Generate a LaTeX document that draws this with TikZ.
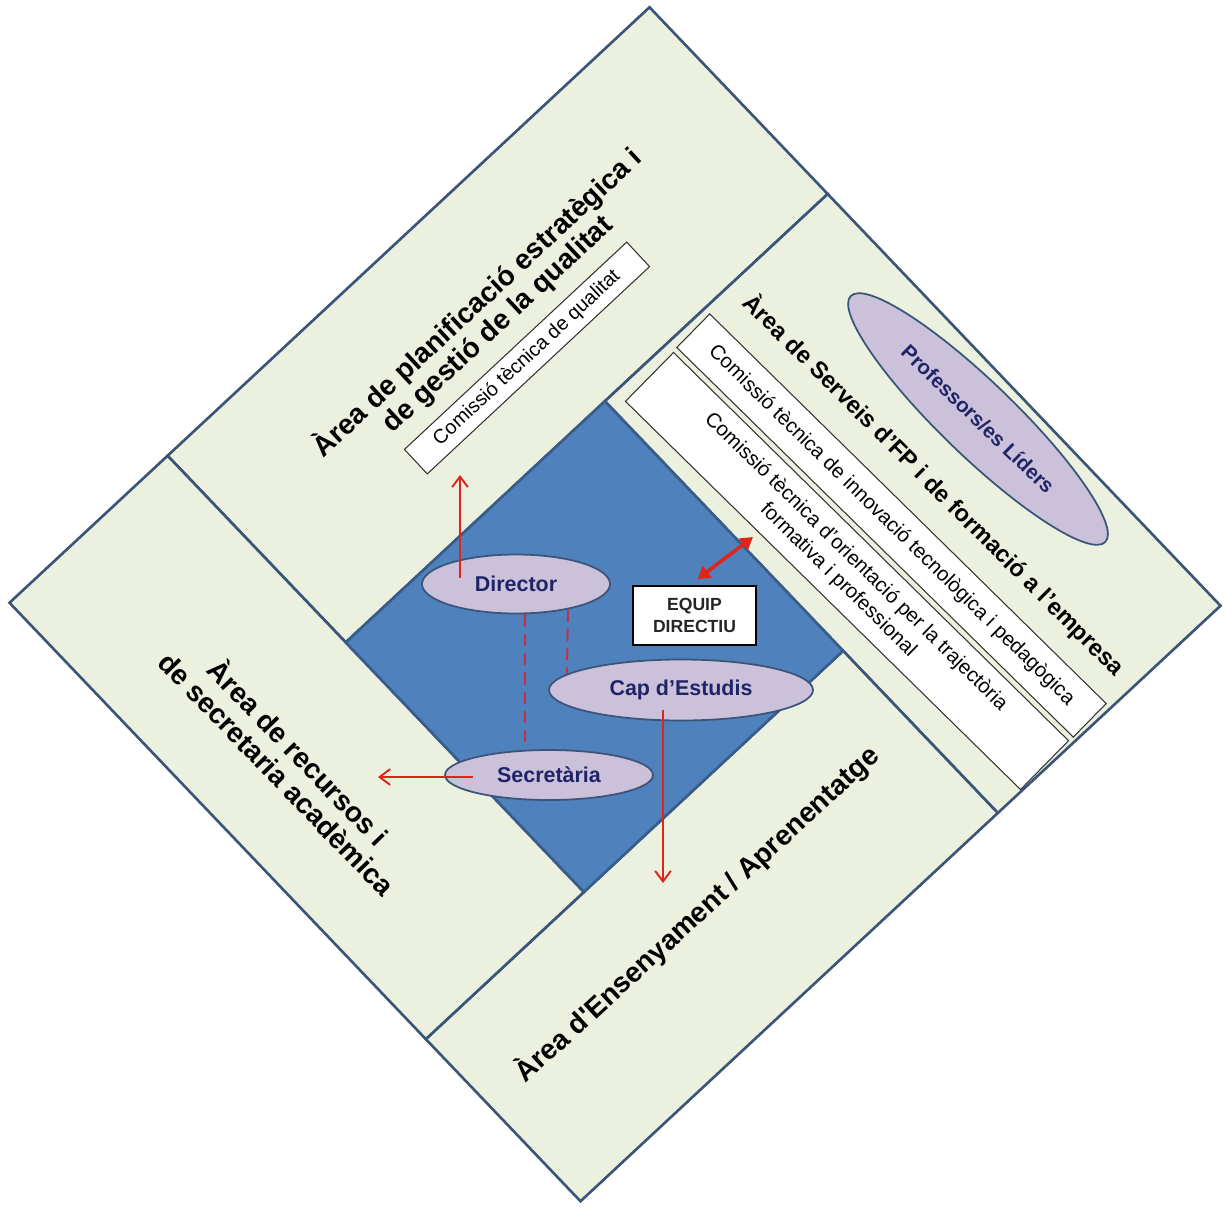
\documentclass[tikz,border=0pt]{standalone}
\usepackage{fontspec}
\setmainfont{Liberation Sans}
\usetikzlibrary{shapes.geometric,arrows.meta,calc}
\definecolor{areafill}{HTML}{EBF1DE}
\definecolor{arealine}{HTML}{3B5578}
\definecolor{equipblue}{HTML}{4F81BD}
\definecolor{equipline}{HTML}{385D8A}
\definecolor{rolefill}{HTML}{CCC1DA}
\definecolor{roletext}{HTML}{1F2466}
\definecolor{linkred}{HTML}{E2231A}
\definecolor{dashred}{HTML}{C0304A}
\begin{document}
\begin{tikzpicture}[x=0.02cm, y=-0.02cm,
  area/.style={fill=areafill, draw=arealine, line width=1.5pt},
  areatitle/.style={inner sep=0pt, align=center, font=\bfseries\fontsize{16}{16.5}\selectfont},
  comissio/.style={draw=black!80, fill=white, line width=0.6pt, inner sep=0pt, align=center, font=\fontsize{11.6}{14.4}\selectfont},
  role/.style={ellipse, draw=arealine, fill=rolefill, line width=1pt, inner sep=0pt, text=roletext, font=\bfseries\fontsize{12.2}{14}\selectfont},
  link/.style={draw=linkred, line width=1.1pt, -{Straight Barb[length=6pt,width=9pt]}},
  tie/.style={draw=dashred, line width=1.1pt, dash pattern=on 7pt off 4pt}]
\useasboundingbox (0,0) rectangle (1226,1207);
\draw[area] (167.6,455.7) -- (649.5,7.25) -- (827.7,194.0) -- (345.7,642.4) -- cycle;
\draw[area] (827.7,194.0) -- (1220.5,605.75) -- (997.8,813.0) -- (604.9,401.2) -- cycle;
\draw[area] (997.8,813.0) -- (580.5,1201.25) -- (425.8,1039.1) -- (843.1,650.8) -- cycle;
\draw[area] (425.8,1039.1) -- (9.5,602.75) -- (167.6,455.7) -- (583.9,892.0) -- cycle;
\draw[fill=equipblue, draw=equipline, line width=1.5pt] (345.7,642.4) -- (604.9,401.2) -- (843.1,650.8) -- (583.9,892.0) -- cycle;

\node[areatitle, rotate=43] (plan) at (487,313) {Àrea de planificació estratègica i\\de gestió de la qualitat};
\node[areatitle, rotate=-45, font=\bfseries\fontsize{13.5}{15}\selectfont] (serv) at (934,485) {Àrea de Serveis d’FP i de formació a l’empresa};
\node[areatitle, rotate=-46, font=\bfseries\fontsize{16}{17}\selectfont] (rec) at (289,762) {Àrea de recursos i\\de secretaria acadèmica};
\node[areatitle, rotate=42.5] (ens) at (697,914) {Àrea d\textquotesingle Ensenyament / Aprenentatge};

\node[comissio, rotate=43, minimum width=6.08cm, minimum height=0.67cm, font=\fontsize{11.3}{13}\selectfont] (qual) at (527,358) {Comissió tècnica de qualitat};
\node[comissio, rotate=-44.5, minimum width=11.12cm, minimum height=0.94cm] (inno) at (891.5,525.5) {Comissió tècnica de innovació tecnològica i pedagògica};
\node[comissio, rotate=-44.5, minimum width=11.08cm, minimum height=1.37cm] (orie) at (847,571) {Comissió tècnica d’orientació per la trajectòria\\formativa i professional};
\node[role, rotate=-44, minimum width=7.08cm, minimum height=1.48cm, font=\bfseries\fontsize{11.7}{14}\selectfont] (lid) at (978,419) {Professors/es Líders};

\node[role, minimum width=3.76cm, minimum height=1.18cm] (dir) at (516,584) {Director};
\node[role, minimum width=5.28cm, minimum height=1.22cm] (cap) at (681,690) {Cap d’Estudis};
\node[role, minimum width=4.16cm, minimum height=1.0cm] (sec) at (549,775) {Secretària};
\node[draw=black, fill=white, line width=1pt, minimum width=2.46cm, minimum height=1.18cm, align=center, text=black!85, font=\bfseries\fontsize{10}{13}\selectfont] (eqd) at (694.5,615.5) {EQUIP\\DIRECTIU};

\coordinate (qualend) at (460,475);
\coordinate (recend) at (378,777);
\coordinate (ensend) at (663,883);
\coordinate (orieend) at (753,537);
\draw[link] ($(dir)+(-56,-6)$) -- (qualend);
\draw[link] ($(sec)+(-76,2)$) -- (recend);
\draw[link] ($(cap)+(-18,20)$) -- (ensend);
\draw[draw=linkred, line width=2pt, {Triangle[length=7pt,width=8pt]}-{Triangle[length=7pt,width=8pt]}] ($(eqd.north)+(3,-6)$) -- (orieend);
\draw[tie] (dir.-73) -- (dir.-73 |- sec.north);
\draw[tie] (dir.-26) -- (cap.172);
\end{tikzpicture}
\end{document}
